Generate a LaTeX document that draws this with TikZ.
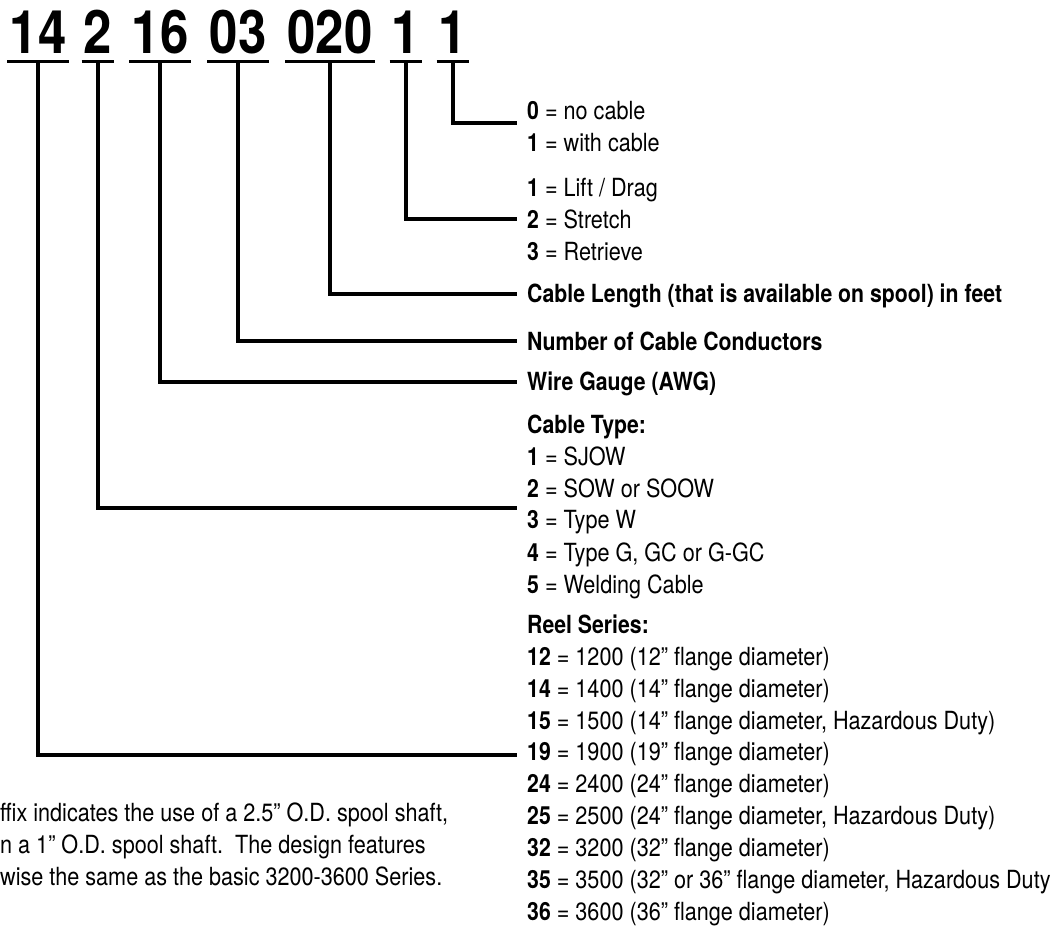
\documentclass[tikz,border=0pt]{standalone}
\usepackage{fontspec}
\setmainfont{TeX Gyre Heros}[FakeStretch=0.865]
\newfontfamily\hbold{TeX Gyre Heros}[FakeStretch=0.85]
\newcommand\bb[1]{{\hbold\bfseries #1}}
\begin{document}
\begin{tikzpicture}[x=1pt,y=-1pt,
  digit/.style={font=\hbold\bfseries\fontsize{60}{60}\selectfont, inner xsep=2pt, inner ysep=8pt, anchor=base},
  lbl/.style={font=\fontsize{25}{30}\selectfont, inner sep=0pt, anchor=base west},
  conn/.style={line width=4pt},
  uline/.style={line width=3.3pt}]
\useasboundingbox (0,0) rectangle (1059,927);
\fill[white] (0,0) rectangle (1059,927);
% code digits
\node[digit] (g14) at (38,53) {14};
\node[digit] (g2) at (98,53) {2};
\node[digit] (g16) at (160,53) {16};
\node[digit] (g03) at (238,53) {03};
\node[digit] (g020) at (330,53) {020};
\node[digit] (g1a) at (406,53) {1};
\node[digit] (g1b) at (453,53) {1};
\foreach \n in {g14,g2,g16,g03,g020,g1a,g1b}
  \draw[uline] (\n.south west) -- (\n.south east);
% labels
\node[lbl] (c0) at (527,119) {\bb{0} = no cable};
\node[lbl] (c1) at (527,151) {\bb{1} = with cable};
\node[lbl] (a1) at (527,196) {\bb{1} = Lift / Drag};
\node[lbl] (a2) at (527,228) {\bb{2} = Stretch};
\node[lbl] (a3) at (527,260) {\bb{3} = Retrieve};
\node[lbl] (len) at (527,302) {\bb{Cable Length (that is available on spool) in feet}};
\node[lbl] (num) at (527,350) {\bb{Number of Cable Conductors}};
\node[lbl] (awg) at (527,390) {\bb{Wire Gauge (AWG)}};
\node[lbl] (ct) at (527,433) {\bb{Cable Type:}};
\node[lbl] (t1) at (527,465) {\bb{1} = SJOW};
\node[lbl] (t2) at (527,497) {\bb{2} = SOW or SOOW};
\node[lbl] (t3) at (527,528) {\bb{3} = Type W};
\node[lbl] (t4) at (527,561) {\bb{4} = Type G, GC or G-GC};
\node[lbl] (t5) at (527,593) {\bb{5} = Welding Cable};
\node[lbl] (rs) at (527,633) {\bb{Reel Series:}};
\node[lbl] (r12) at (527,665) {\bb{12} = 1200 (12” flange diameter)};
\node[lbl] (r14) at (527,697) {\bb{14} = 1400 (14” flange diameter)};
\node[lbl] (r15) at (527,729) {\bb{15} = 1500 (14” flange diameter, Hazardous Duty)};
\node[lbl] (r19) at (527,760) {\bb{19} = 1900 (19” flange diameter)};
\node[lbl] (r24) at (527,792) {\bb{24} = 2400 (24” flange diameter)};
\node[lbl] (r25) at (527,824) {\bb{25} = 2500 (24” flange diameter, Hazardous Duty)};
\node[lbl] (r32) at (527,856) {\bb{32} = 3200 (32” flange diameter)};
\node[lbl] (r35) at (527,888) {\bb{35} = 3500 (32” or 36” flange diameter, Hazardous Duty};
\node[lbl] (r36) at (527,920) {\bb{36} = 3600 (36” flange diameter)};
% bottom-left note (cut at the left edge)
\node[lbl] (p1) at (0,821) {ffix indicates the use of a 2.5” O.D. spool shaft,};
\node[lbl] (p2) at (0,853) {n a 1” O.D. spool shaft.\ \ The design features};
\node[lbl] (p3) at (0,885) {wise the same as the basic 3200-3600 Series.};
% connector ends
\coordinate (e0) at (517,123);
\coordinate (e1) at (517,219);
\coordinate (e2) at (517,294);
\coordinate (e3) at (517,341);
\coordinate (e4) at (517,382);
\coordinate (e5) at (517,508);
\coordinate (e6) at (517,755);
\draw[conn] (g1b.south) |- (e0);
\draw[conn] (g1a.south) |- (e1);
\draw[conn] (g020.south) |- (e2);
\draw[conn] (g03.south) |- (e3);
\draw[conn] (g16.south) |- (e4);
\draw[conn] (g2.south) |- (e5);
\draw[conn] (g14.south) |- (e6);
\end{tikzpicture}
\end{document}
